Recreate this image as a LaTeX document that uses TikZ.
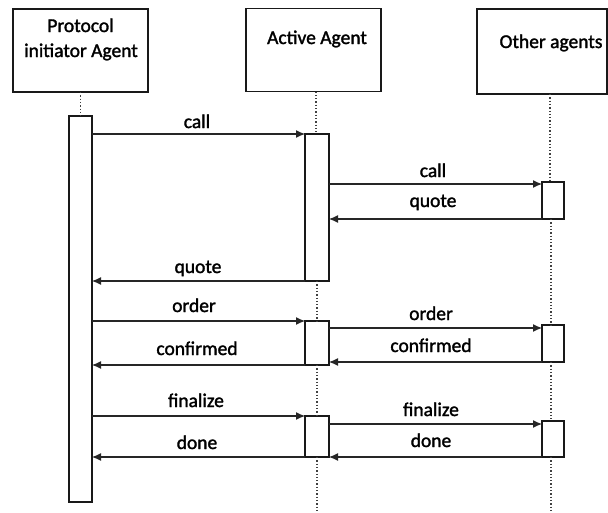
\documentclass[tikz,border=0pt]{standalone}
\usepackage{fontspec}
\setmainfont{Carlito}[FakeBold=1.6]
\usetikzlibrary{arrows.meta}
\begin{document}
\begin{tikzpicture}[x=1pt,y=-1pt,
  hdr/.style={draw=black!90, line width=1.5pt, inner sep=0pt, outer sep=0pt},
  bar/.style={draw=black!90, fill=white, line width=1.6pt, inner sep=0pt, outer sep=0pt},
  msg/.style={draw=black!85, line width=1.1pt, -{Latex[length=9pt,width=8pt]}},
  life/.style={draw=black!75, line width=1.3pt, dash pattern=on 1.3pt off 2pt},
  lbl/.style={font=\fontsize{19.5}{23}\selectfont, text=black, anchor=base, inner sep=0pt},
]
\useasboundingbox (0,0) rectangle (608,512);
\coordinate (bot) at (0,512);
% header boxes
\node[hdr, minimum width=135pt, minimum height=83pt] (p) at (80.5,50.5) {};
\node[hdr, minimum width=135pt, minimum height=83pt] (a) at (313.5,50) {};
\node[hdr, minimum width=130pt, minimum height=85pt] (o) at (542,51.5) {};
\node[lbl] (pt1) at (80.5,32) {Protocol};
\node[lbl] (pt2) at (81,57) {initiator Agent};
\node[lbl] (at) at (317,44) {Active Agent};
\node[lbl] (ot) at (551,48) {Other agents};
% activation bars
\path
  node[bar, minimum width=23pt, minimum height=386pt] (b1) at (80.5,309) {}
  node[bar, minimum width=24pt, minimum height=147pt] (b2a) at (317,207.5) {}
  node[bar, minimum width=24pt, minimum height=44pt] (b2b) at (317,343) {}
  node[bar, minimum width=24pt, minimum height=41pt] (b2c) at (317,436.5) {}
  node[bar, minimum width=22pt, minimum height=37pt] (b3a) at (553,200.5) {}
  node[bar, minimum width=22pt, minimum height=37pt] (b3b) at (553,343.5) {}
  node[bar, minimum width=22pt, minimum height=36pt] (b3c) at (553,439) {};
% lifelines
\draw[life] (p.south) -- (b1.north);
\draw[life] ([xshift=-1pt]b2a.north |- a.south) -- ([xshift=-1pt]b2a.north);
\draw[life] (b2a.south) -- (b2b.north);
\draw[life] (b2b.south) -- (b2c.north);
\draw[life] (b2c.south) -- (b2c.south |- bot);
\draw[life] ([xshift=-3pt]b3a.north |- o.south) -- ([xshift=-3pt]b3a.north);
\draw[life] ([xshift=-2pt]b3a.south) -- ([xshift=-2pt]b3b.north);
\draw[life] ([xshift=-2pt]b3b.south) -- ([xshift=-2pt]b3c.north);
\draw[life] ([xshift=-2pt]b3c.south) -- ([xshift=-2pt]b3c.south |- bot);
% helper coordinates
\coordinate (c2) at ([yshift=-2pt]b3a.north west);
\coordinate (o2) at ([yshift=-3pt]b3b.north west);
\coordinate (f2) at ([yshift=-3pt]b3c.north west);
% messages
\draw[msg] (b1.east |- b2a.north west) -- (b2a.north west);
\draw[msg] (b2a.south west) -- (b1.east |- b2a.south west);
\draw[msg] (b2a.east |- c2) -- (c2);
\draw[msg] (b3a.south west) -- (b2a.east |- b3a.south west);
\draw[msg] (b1.east |- b2b.north west) -- (b2b.north west);
\draw[msg] (b2b.east |- o2) -- (o2);
\draw[msg] (b2b.south west) -- (b1.east |- b2b.south west);
\draw[msg] (b3b.south west) -- (b2b.east |- b3b.south west);
\draw[msg] (b1.east |- b2c.north west) -- (b2c.north west);
\draw[msg] (b2c.east |- f2) -- (f2);
\draw[msg] (b2c.south west) -- (b1.east |- b2c.south west);
\draw[msg] (b3c.south west) -- (b2c.east |- b3c.south west);
% labels
\node[lbl] (m1) at (197,128) {call};
\node[lbl] (m2) at (198,273) {quote};
\node[lbl] (m3) at (433,177) {call};
\node[lbl] (m4) at (433,207) {quote};
\node[lbl] (m5) at (194,312) {order};
\node[lbl] (m6) at (431,320) {order};
\node[lbl] (m7) at (197,355) {confirmed};
\node[lbl] (m8) at (431,352) {confirmed};
\node[lbl] (m9) at (196,407) {finalize};
\node[lbl] (m10) at (431,416) {finalize};
\node[lbl] (m11) at (197,449) {done};
\node[lbl] (m12) at (431,447) {done};
\end{tikzpicture}
\end{document}
